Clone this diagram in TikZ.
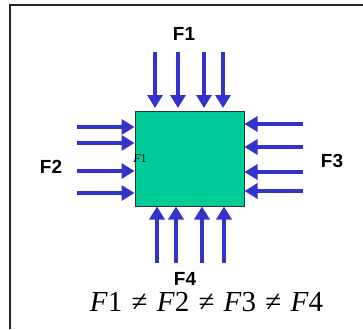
\documentclass[tikz,border=0pt]{standalone}
\usepackage{fontspec}
\setmainfont{Liberation Serif}
\newfontfamily\labelfont{Liberation Sans}
\usetikzlibrary{arrows.meta}
\definecolor{forceblue}{RGB}{51,51,204}
\definecolor{boxgreen}{RGB}{0,204,153}
\tikzset{
  force/.style={draw=forceblue, line width=3.6pt, -{Triangle[length=13pt,width=15pt]}},
  flabel/.style={font=\labelfont\bfseries\fontsize{19}{19}\selectfont, inner sep=0pt},
  block/.style={draw=black!80, line width=1pt, fill=boxgreen, minimum width=109pt, minimum height=95pt, inner sep=0pt},
  frameline/.style={draw=black!85, line width=2pt}
}
\begin{document}
\begin{tikzpicture}[x=1pt,y=-1pt]
\useasboundingbox (0,0) rectangle (363,329);
\coordinate (fa) at (10,329);
\coordinate (fb) at (10,5);
\coordinate (fc) at (363,5);
\draw[frameline] (fa) -- (fb) -- (fc);
\node[block] (box) at (189.5,158.5) {};
% top
\foreach \x [count=\i] in {155,178,204,223} {
  \coordinate (t\i) at (\x,52);
  \draw[force, shorten >=2.5pt] (t\i) -- (t\i |- box.north);
}
% bottom
\foreach \x [count=\i] in {157,176,202,224} {
  \coordinate (b\i) at (\x,263);
  \draw[force] (b\i) -- (b\i |- box.south);
}
% left
\foreach \y [count=\i] in {127,143,171,193} {
  \coordinate (l\i) at (77,\y);
  \draw[force] (l\i) -- (l\i -| box.west);
}
% right
\foreach \y [count=\i] in {124,147,172,191} {
  \coordinate (r\i) at (303,\y);
  \draw[force] (r\i) -- (r\i -| box.east);
}
\node[flabel] (F1) at (184,33.5) {F1};
\node[flabel] (F2) at (51,167) {F2};
\node[flabel] (F3) at (332,160.5) {F3};
\node[flabel] (F4) at (185,278.5) {F4};
\node[inner sep=0pt, font=\fontsize{12}{12}\selectfont] (small) at (140,158.5) {\textit{F}1};
\node[inner sep=0pt, anchor=base, text height=18pt, text depth=0pt, font=\fontsize{29}{29}\selectfont] (eq) at (206.5,311)
  {\textit{F}1\hspace{0.32em}≠\hspace{0.32em}\textit{F}2\hspace{0.32em}≠\hspace{0.32em}\textit{F}3\hspace{0.32em}≠\hspace{0.32em}\textit{F}4};
\end{tikzpicture}
\end{document}
